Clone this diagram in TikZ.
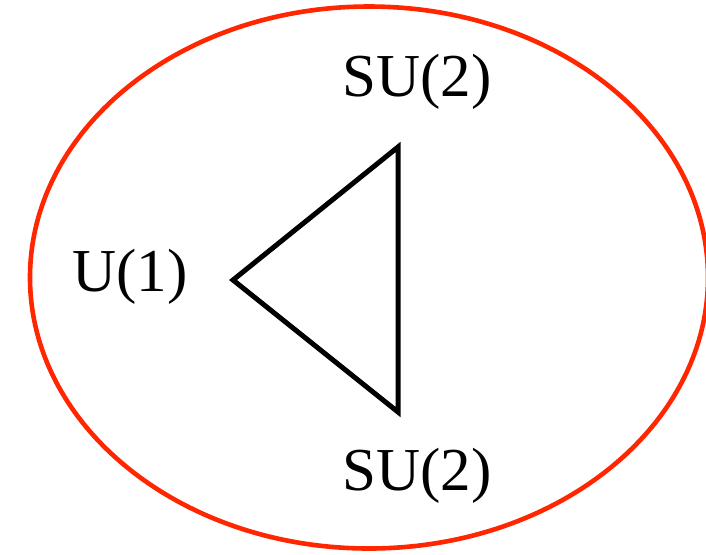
\documentclass[tikz,border=0pt]{standalone}
\usepackage{fontspec}
\setmainfont{Liberation Serif}
\usepackage{tikz}
\usetikzlibrary{positioning}
\definecolor{myred}{RGB}{255,38,0}

\begin{document}
\begin{tikzpicture}[x=0.5pt, y=-0.5pt,
  group/.style={font=\fontsize{30.5}{36}\selectfont, inner sep=0pt}]
\useasboundingbox (0,0) rectangle (706,554);
\draw[myred, line width=2.3pt] (369,277.5) ellipse [x radius=339, y radius=271];
\coordinate (u) at (233,280);
\coordinate (t) at (398,147);
\coordinate (b) at (398,412);
\draw[line width=2.5pt, line join=miter] (u) -- (t) -- (b) -- cycle;
\node[group] (lu) at (130,277) {U(1)};
\node[group] (lt) at (417,82) {SU(2)};
\node[group] (lb) at (417,476) {SU(2)};
\end{tikzpicture}
\end{document}
